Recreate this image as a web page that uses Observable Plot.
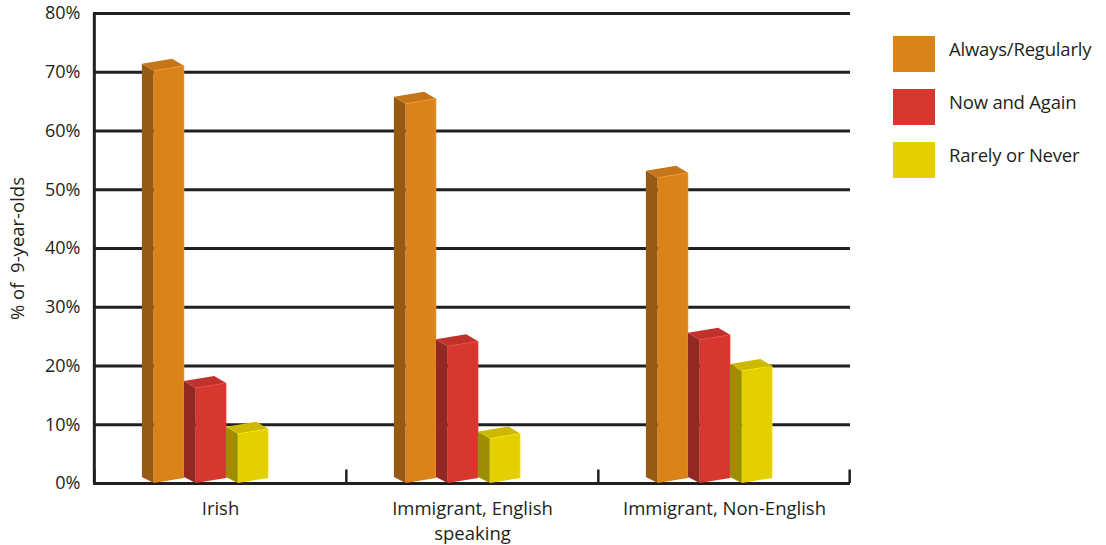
<!DOCTYPE html>
<html>
<head>
<meta charset="utf-8">
<script src="https://cdn.jsdelivr.net/npm/d3@7"></script>
<script src="https://cdn.jsdelivr.net/npm/@observablehq/plot@0.6"></script>
<style>
  html, body { margin: 0; padding: 0; background: #fff; }
  #wrap { position: relative; width: 1106px; height: 545px; font-family: "Open Sans", sans-serif; color: #231f20; }
  #legend { position: absolute; left: 893px; top: 36px; }
  .item { display: flex; align-items: center; height: 36px; margin-bottom: 17px; }
  .sw { width: 42px; height: 36px; margin-right: 14px; flex: none; }
  .lab { font-size: 18.5px; margin-top: -12px; white-space: nowrap; letter-spacing: -0.2px; }
</style>
</head>
<body>
<div id="wrap"><div id="legend"></div></div>
<script>
const categories = ["Irish", "Immigrant, English speaking", "Immigrant, Non-English"];
const series = ["Always/Regularly", "Now and Again", "Rarely or Never"];
const alwaysRegularly = [70.6, 65.0, 52.4];
const nowAndAgain = [16.6, 23.7, 24.8];
const rarelyOrNever = [8.8, 8.0, 19.5];
const colors = ["#DB831B", "#D63830", "#E4CF00"];
const yTicks = [0, 10, 20, 30, 40, 50, 60, 70, 80];
const axisLabel = "% of  9-year-olds";

const seriesValues = [alwaysRegularly, nowAndAgain, rarelyOrNever];
const rows = [];
categories.forEach((c, ci) => series.forEach((s, si) => rows.push({category: c, series: s, si, value: seriesValues[si][ci]})));

const W = 1106, H = 545, mL = 93, mR = 256, mT = 13, mB = 62;
const bandHalf = (W - mL - mR) / categories.length / 2;
const ink = "#231f20";

function bars3d(index, scales, values, dimensions, context) {
  const bw = scales.x.bandwidth();
  const g = d3.create("svg:g");
  const slot = bw * 0.167, side = slot * 0.28, depthY = 7, slant = 5;
  for (const i of index) {
    const si = rows[i].si;
    const sx = values.x[i] + bw * 0.19 + si * slot;
    const f0 = sx + side, f1 = sx + slot;
    const yT = values.y2[i], yB = values.y1[i];
    const col = d3.color(values.fill[i]);
    const tl = yT + slant / 2, tr = yT - slant / 2;
    g.append("path").attr("fill", col.darker(1.05))
      .attr("d", `M${sx},${tl - depthY}L${f0},${tl}L${f0},${yB}L${sx},${yB - 6}Z`);
    g.append("path").attr("fill", col.darker(0.3))
      .attr("d", `M${sx},${tl - depthY}L${f1 - side},${tr - depthY}L${f1},${tr}L${f0},${tl}Z`);
    g.append("path").attr("fill", col)
      .attr("d", `M${f0},${tl}L${f1},${tr}L${f1},${yB - slant}L${f0},${yB}Z`);
    g.append("path").attr("fill", "none").attr("stroke", col.brighter(0.4)).attr("stroke-width", 0.6)
      .attr("d", `M${f0},${tl}L${f1},${tr}L${f1},${yB - slant}`);
  }
  return g.node();
}

const chart = Plot.plot({
  width: W, height: H,
  marginLeft: mL, marginRight: mR, marginTop: mT, marginBottom: mB,
  style: {fontFamily: "'Open Sans', sans-serif", color: ink, background: "transparent"},
  x: {domain: categories, padding: 0},
  y: {domain: [0, 80]},
  color: {domain: series, range: colors},
  marks: [
    Plot.ruleY(yTicks, {stroke: ink, strokeWidth: 3}),
    Plot.ruleX([categories[0]], {y1: 0, y2: 80, dx: -bandHalf, stroke: ink, strokeWidth: 3}),
    Plot.ruleX(categories, {y1: 0, y2: 2.3, dx: -bandHalf, stroke: ink, strokeWidth: 2.5}),
    Plot.ruleX([categories[categories.length - 1]], {y1: 0, y2: 2.3, dx: bandHalf - 1, stroke: ink, strokeWidth: 2.5}),
    Plot.barY(rows, {x: "category", y1: 0, y2: "value", fill: "series", render: bars3d}),
    Plot.axisY(yTicks, {tickSize: 0, tickPadding: 13, fontSize: 18, tickFormat: d => d + "%", label: null, fill: ink}),
    Plot.axisX({tickSize: 0, tickPadding: 14, fontSize: 18.5, lineHeight: 1.35, label: null, fill: ink,
      tickFormat: d => d.replace("English speaking", "English\nspeaking")}),
    Plot.text([axisLabel], {frameAnchor: "left", dx: -75, rotate: -90, fontSize: 18.5, fill: ink, textAnchor: "middle"})
  ]
});

document.getElementById("wrap").prepend(chart);

const legend = document.getElementById("legend");
series.forEach((s, i) => {
  const item = document.createElement("div");
  item.className = "item";
  item.innerHTML = `<div class="sw" style="background:${colors[i]}"></div><div class="lab">${s}</div>`;
  legend.appendChild(item);
});
</script>
</body>
</html>
